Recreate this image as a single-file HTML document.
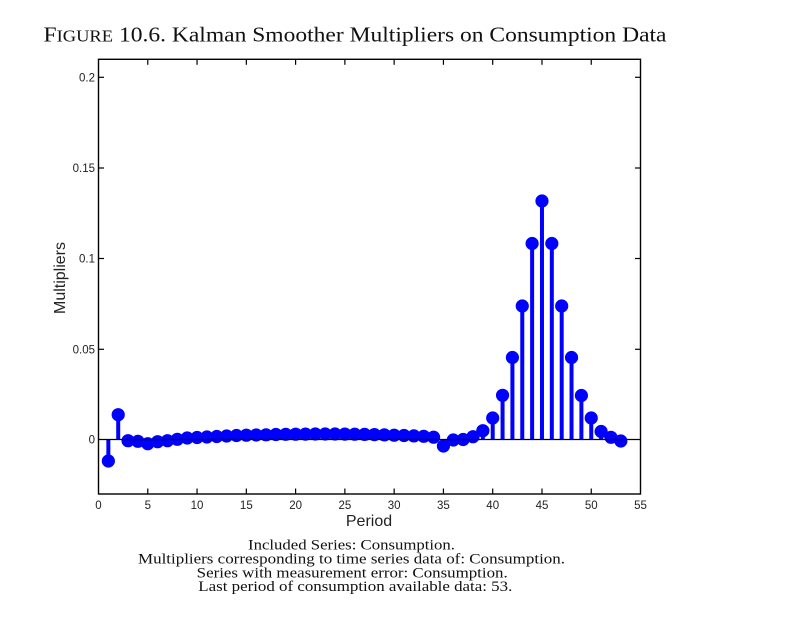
<!DOCTYPE html>
<html>
<head>
<meta charset="utf-8">
<style>
html,body{margin:0;padding:0;background:#fff;}
svg{display:block;}
</style>
</head>
<body>
<svg width="788" height="630" viewBox="0 0 788 630" xmlns="http://www.w3.org/2000/svg">
<rect x="0" y="0" width="788" height="630" fill="#fff"/>
<!-- Title -->
<text x="43.5" y="41.7" font-family="'Liberation Serif', serif" font-size="21" fill="#111" textLength="623" lengthAdjust="spacingAndGlyphs">F<tspan font-size="16.5">IGURE</tspan> 10.6. Kalman Smoother Multipliers on Consumption Data</text>

<!-- Stems -->
<g stroke="#0000ff" stroke-width="4" fill="none">
<line x1="108.36" y1="439.5" x2="108.36" y2="461"/>
<line x1="118.21" y1="439.5" x2="118.21" y2="414.7"/>
<line x1="443.43" y1="439.5" x2="443.43" y2="446"/>
<line x1="482.85" y1="439.5" x2="482.85" y2="430.7"/>
<line x1="492.7" y1="439.5" x2="492.7" y2="418"/>
<line x1="502.56" y1="439.5" x2="502.56" y2="395.3"/>
<line x1="512.41" y1="439.5" x2="512.41" y2="357.5"/>
<line x1="522.27" y1="439.5" x2="522.27" y2="306"/>
<line x1="532.12" y1="439.5" x2="532.12" y2="243.5"/>
<line x1="541.98" y1="439.5" x2="541.98" y2="201"/>
<line x1="551.83" y1="439.5" x2="551.83" y2="243.5"/>
<line x1="561.69" y1="439.5" x2="561.69" y2="306"/>
<line x1="571.54" y1="439.5" x2="571.54" y2="357.5"/>
<line x1="581.4" y1="439.5" x2="581.4" y2="395.5"/>
<line x1="591.25" y1="439.5" x2="591.25" y2="418"/>
<line x1="601.11" y1="439.5" x2="601.11" y2="431.5"/>
</g>

<!-- Markers -->
<g fill="#0000ff">
<circle cx="108.36" cy="461" r="6.6"/>
<circle cx="118.21" cy="414.7" r="6.6"/>
<circle cx="128.07" cy="440.7" r="6.6"/>
<circle cx="137.92" cy="441.3" r="6.6"/>
<circle cx="147.78" cy="443.7" r="6.6"/>
<circle cx="157.63" cy="441.7" r="6.6"/>
<circle cx="167.49" cy="440.7" r="6.6"/>
<circle cx="177.34" cy="439.3" r="6.6"/>
<circle cx="187.2" cy="438" r="6.6"/>
<circle cx="197.05" cy="437.5" r="6.6"/>
<circle cx="206.91" cy="437" r="6.6"/>
<circle cx="216.76" cy="436.5" r="6.6"/>
<circle cx="226.62" cy="436" r="6.6"/>
<circle cx="236.47" cy="435.5" r="6.6"/>
<circle cx="246.33" cy="435.2" r="6.6"/>
<circle cx="256.18" cy="435" r="6.6"/>
<circle cx="266.04" cy="434.8" r="6.6"/>
<circle cx="275.89" cy="434.5" r="6.6"/>
<circle cx="285.75" cy="434.3" r="6.6"/>
<circle cx="295.6" cy="434.2" r="6.6"/>
<circle cx="305.46" cy="434.1" r="6.6"/>
<circle cx="315.31" cy="434" r="6.6"/>
<circle cx="325.17" cy="434" r="6.6"/>
<circle cx="335.02" cy="434" r="6.6"/>
<circle cx="344.88" cy="434.1" r="6.6"/>
<circle cx="354.73" cy="434.2" r="6.6"/>
<circle cx="364.59" cy="434.4" r="6.6"/>
<circle cx="374.44" cy="434.6" r="6.6"/>
<circle cx="384.3" cy="434.9" r="6.6"/>
<circle cx="394.15" cy="435.2" r="6.6"/>
<circle cx="404.01" cy="435.5" r="6.6"/>
<circle cx="413.86" cy="435.9" r="6.6"/>
<circle cx="423.72" cy="436.3" r="6.6"/>
<circle cx="433.57" cy="437.2" r="6.6"/>
<circle cx="443.43" cy="446" r="6.6"/>
<circle cx="453.28" cy="440" r="6.6"/>
<circle cx="463.14" cy="439.5" r="6.6"/>
<circle cx="472.99" cy="436.7" r="6.6"/>
<circle cx="482.85" cy="430.7" r="6.6"/>
<circle cx="492.7" cy="418" r="6.6"/>
<circle cx="502.56" cy="395.3" r="6.6"/>
<circle cx="512.41" cy="357.5" r="6.6"/>
<circle cx="522.27" cy="306" r="6.6"/>
<circle cx="532.12" cy="243.5" r="6.6"/>
<circle cx="541.98" cy="201" r="6.6"/>
<circle cx="551.83" cy="243.5" r="6.6"/>
<circle cx="561.69" cy="306" r="6.6"/>
<circle cx="571.54" cy="357.5" r="6.6"/>
<circle cx="581.4" cy="395.5" r="6.6"/>
<circle cx="591.25" cy="418" r="6.6"/>
<circle cx="601.11" cy="431.5" r="6.6"/>
<circle cx="610.96" cy="437.3" r="6.6"/>
<circle cx="620.82" cy="441" r="6.6"/>
</g>

<!-- Baseline -->
<line x1="98.5" y1="439.5" x2="640.5" y2="439.5" stroke="#000" stroke-width="1.2"/>

<!-- Axes box -->
<rect x="98.5" y="59.3" width="542" height="434.7" fill="none" stroke="#000" stroke-width="1.4"/>

<!-- X ticks -->
<g stroke="#000" stroke-width="1.2">
<line x1="147.78" y1="494" x2="147.78" y2="488.5"/><line x1="147.78" y1="59.3" x2="147.78" y2="64.8"/>
<line x1="197.05" y1="494" x2="197.05" y2="488.5"/><line x1="197.05" y1="59.3" x2="197.05" y2="64.8"/>
<line x1="246.33" y1="494" x2="246.33" y2="488.5"/><line x1="246.33" y1="59.3" x2="246.33" y2="64.8"/>
<line x1="295.6" y1="494" x2="295.6" y2="488.5"/><line x1="295.6" y1="59.3" x2="295.6" y2="64.8"/>
<line x1="344.88" y1="494" x2="344.88" y2="488.5"/><line x1="344.88" y1="59.3" x2="344.88" y2="64.8"/>
<line x1="394.15" y1="494" x2="394.15" y2="488.5"/><line x1="394.15" y1="59.3" x2="394.15" y2="64.8"/>
<line x1="443.43" y1="494" x2="443.43" y2="488.5"/><line x1="443.43" y1="59.3" x2="443.43" y2="64.8"/>
<line x1="492.7" y1="494" x2="492.7" y2="488.5"/><line x1="492.7" y1="59.3" x2="492.7" y2="64.8"/>
<line x1="541.98" y1="494" x2="541.98" y2="488.5"/><line x1="541.98" y1="59.3" x2="541.98" y2="64.8"/>
<line x1="591.25" y1="494" x2="591.25" y2="488.5"/><line x1="591.25" y1="59.3" x2="591.25" y2="64.8"/>
<!-- Y ticks -->
<line x1="98.5" y1="77.3" x2="104" y2="77.3"/><line x1="640.5" y1="77.3" x2="635" y2="77.3"/>
<line x1="98.5" y1="168" x2="104" y2="168"/><line x1="640.5" y1="168" x2="635" y2="168"/>
<line x1="98.5" y1="258.5" x2="104" y2="258.5"/><line x1="640.5" y1="258.5" x2="635" y2="258.5"/>
<line x1="98.5" y1="349.3" x2="104" y2="349.3"/><line x1="640.5" y1="349.3" x2="635" y2="349.3"/>
</g>

<!-- X tick labels -->
<g font-family="'Liberation Sans', sans-serif" font-size="11.5" fill="#222" text-anchor="middle">
<text x="98.5" y="509">0</text>
<text x="147.78" y="509">5</text>
<text x="197.05" y="509">10</text>
<text x="246.33" y="509">15</text>
<text x="295.6" y="509">20</text>
<text x="344.88" y="509">25</text>
<text x="394.15" y="509">30</text>
<text x="443.43" y="509">35</text>
<text x="492.7" y="509">40</text>
<text x="541.98" y="509">45</text>
<text x="591.25" y="509">50</text>
<text x="640.5" y="509">55</text>
</g>
<!-- Y tick labels -->
<g font-family="'Liberation Sans', sans-serif" font-size="11.5" fill="#222" text-anchor="end">
<text x="95" y="81.5">0.2</text>
<text x="95" y="172.2">0.15</text>
<text x="95" y="262.7">0.1</text>
<text x="95" y="353.5">0.05</text>
<text x="95" y="443.7">0</text>
</g>

<!-- Axis labels -->
<text x="369" y="526" font-family="'Liberation Sans', sans-serif" font-size="16" fill="#222" text-anchor="middle">Period</text>
<text transform="translate(65,278) rotate(-90)" font-family="'Liberation Sans', sans-serif" font-size="16" fill="#222" text-anchor="middle">Multipliers</text>

<!-- Caption -->
<g font-family="'Liberation Serif', serif" font-size="15" fill="#111">
<text x="248" y="549.3" textLength="207" lengthAdjust="spacingAndGlyphs">Included Series: Consumption.</text>
<text x="138" y="563.3" textLength="427" lengthAdjust="spacingAndGlyphs">Multipliers corresponding to time series data of: Consumption.</text>
<text x="196.7" y="577.5" textLength="311" lengthAdjust="spacingAndGlyphs">Series with measurement error: Consumption.</text>
<text x="198.3" y="591" textLength="314" lengthAdjust="spacingAndGlyphs">Last period of consumption available data: 53.</text>
</g>
</svg>
</body>
</html>
